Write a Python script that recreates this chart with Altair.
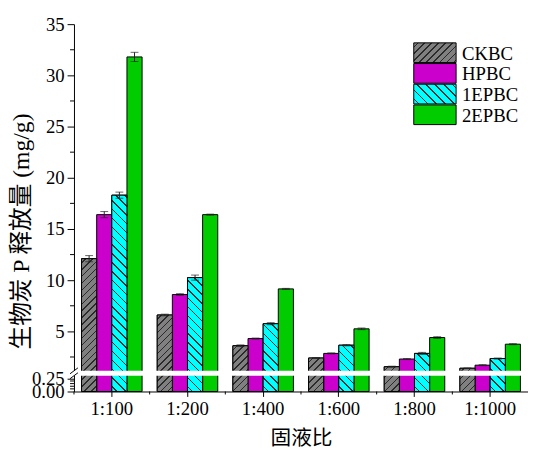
import altair as alt
import pandas as pd

groups = ["1:100", "1:200", "1:400", "1:600", "1:800", "1:1000"]
series = ["CKBC", "HPBC", "1EPBC", "2EPBC"]
ckbc = [12.1, 6.6, 3.6, 2.4, 1.55, 1.4]
hpbc = [16.4, 8.6, 4.3, 2.85, 2.3, 1.7]
ep1 = [18.3, 10.25, 5.75, 3.65, 2.85, 2.35]
ep2 = [31.8, 16.4, 9.15, 5.25, 4.4, 3.75]
err_ckbc = [0.3, 0.08, 0.08, 0.05, 0.05, 0.03]
err_hpbc = [0.3, 0.08, 0.05, 0.05, 0.05, 0.05]
err_ep1 = [0.3, 0.25, 0.1, 0.06, 0.1, 0.05]
err_ep2 = [0.45, 0.05, 0.05, 0.08, 0.08, 0.05]
colors = ["#808080", "#CC00CC", "#00FFFF", "#00CC00"]
y_major = [0, 0.25, 5, 10, 15, 20, 25, 30, 35]
y_minor = [0.05, 0.1, 0.15, 0.2, 2.5, 7.5, 12.5, 17.5, 22.5, 27.5, 32.5]

vals = [ckbc, hpbc, ep1, ep2]
errs = [err_ckbc, err_hpbc, err_ep1, err_ep2]
rows = []
for s, v, e in zip(series, vals, errs):
    for g, vv, ee in zip(groups, v, e):
        rows.append({"group": g, "series": s, "value": vv, "lo": vv - ee, "hi": vv + ee})
df = pd.DataFrame(rows)

W, H = 461, 373
B_LO, B_HI = 0.3, 1.15
UP_BOTTOM, LO_TOP = 352, 357
SERIF = "Liberation Serif"
CJK = "Liberation Serif, Noto Sans CJK SC"

yscale = alt.Scale(domain=[0, B_LO, B_HI, 35], range=[H, LO_TOP, UP_BOTTOM, 0], nice=False, zero=False)


def ypix(v):
    if v >= B_HI:
        return (35 - v) * UP_BOTTOM / (35 - B_HI)
    return H - v * (H - LO_TOP) / B_LO


BAR_W = W / 6 / 5


def hatch(w, h, bg, line, period, direction):
    L = w + h
    lw = 1.5
    stops = [alt.GradientStop(offset=0, color=bg)]
    pos = period / 2
    while pos + lw < L:
        a, b = pos / L, (pos + lw) / L
        stops += [alt.GradientStop(offset=a, color=bg), alt.GradientStop(offset=a, color=line),
                  alt.GradientStop(offset=b, color=line), alt.GradientStop(offset=b, color=bg)]
        pos += period
    stops.append(alt.GradientStop(offset=1, color=bg))
    s = w * (w + h) / (w * w + h * h)
    if direction == "/":
        return alt.LinearGradient(gradient="linear", stops=stops, x1=0, y1=0, x2=s, y2=s * h / w)
    return alt.LinearGradient(gradient="linear", stops=stops, x1=0, y1=1, x2=s, y2=1 - s * h / w)


hatch_style = {"CKBC": ("/", 7, "#2a2a2a"), "1EPBC": ("\\", 9, "#1a3030")}

x_axis = alt.Axis(title="固液比", labelAngle=0, tickSize=5, titlePadding=10)
y_axis = alt.Axis(values=y_major,
                  labelExpr="datum.value < 1 ? format(datum.value, '.2f') : format(datum.value, 'd')",
                  labelOverlap=False, tickSize=7,
                  title="生物炭 P 释放量 (mg/g)", titleX=-53, titleY=210,
                  titleAngle=270, titleAlign="center", titleBaseline="middle")

XS = alt.Scale(domain=groups, paddingInner=0, paddingOuter=0)
X = alt.X("group:N", sort=groups, scale=XS, axis=x_axis)
XO = alt.XOffset("series:N", sort=series, scale=alt.Scale(domain=series, paddingInner=0, paddingOuter=0.5))


def Y(field):
    return alt.Y(field, scale=yscale, axis=y_axis)


base = alt.Chart(df)
bars = base.mark_bar(stroke="black", strokeWidth=1).encode(
    x=X, xOffset=XO,
    y=Y("value:Q"),
    y2=alt.datum(0),
    fill=alt.Fill("series:N", scale=alt.Scale(domain=series, range=colors), legend=None),
)
layers = [bars]

for s, (d, per, lc) in hatch_style.items():
    bg = colors[series.index(s)]
    v = vals[series.index(s)]
    for g, vv in zip(groups, v):
        h = H - ypix(vv)
        grad = hatch(BAR_W, h, bg, lc, per, d)
        layers.append(
            base.transform_filter((alt.datum.group == g) & (alt.datum.series == s))
            .mark_bar(fill=grad, stroke="black", strokeWidth=1)
            .encode(x=X, xOffset=XO, y=Y("value:Q"), y2=alt.datum(0))
        )

layers.append(base.mark_rule(color="#222", strokeWidth=1).encode(
    x=X, xOffset=XO, y=Y("lo:Q"), y2="hi:Q"))
layers.append(base.mark_tick(color="#222", size=8, thickness=1).encode(
    x=X, xOffset=XO, y=Y("hi:Q")))
layers.append(base.mark_tick(color="#222", size=8, thickness=1).encode(
    x=X, xOffset=XO, y=Y("lo:Q")))

one = alt.Chart(pd.DataFrame({"k": [0]}))
# axis break gap
layers.append(one.mark_rect(color="white").encode(
    x=alt.value(-5), x2=alt.value(W + 5), y=alt.datum(B_HI), y2=alt.datum(B_LO)))
# break slashes
for yy in (UP_BOTTOM, LO_TOP):
    layers.append(one.mark_rule(color="black", strokeWidth=1).encode(
        x=alt.value(-4), x2=alt.value(4), y=alt.value(yy + 3), y2=alt.value(yy - 3)))

# minor ticks
layers.append(alt.Chart(pd.DataFrame({"m": y_minor})).mark_rule(color="black").encode(
    y=Y("m:Q"), x=alt.value(-4), x2=alt.value(0)))
# x minor ticks at group boundaries
layers.append(alt.Chart(pd.DataFrame({"group": groups})).mark_rule(color="black").encode(
    x=alt.X("group:N", sort=groups, bandPosition=0, scale=XS, axis=x_axis),
    y=alt.value(H), y2=alt.value(H + 3)))

# legend
for i, s in enumerate(series):
    top = 19 + i * 21
    if s in hatch_style:
        d, per, lc = hatch_style[s]
        f = hatch(43, 20, colors[i], lc, per, d)
    else:
        f = colors[i]
    layers.append(one.mark_rect(fill=f, stroke="black", strokeWidth=1).encode(
        x=alt.value(345), x2=alt.value(388), y=alt.value(top), y2=alt.value(top + 20)))
    layers.append(one.mark_text(text=s, align="left", baseline="middle", font=SERIF,
                                fontSize=19, color="black").encode(
        x=alt.value(394), y=alt.value(top + 11)))

chart = alt.layer(*layers).properties(
    width=W, height=H,
    autosize=alt.AutoSizeParams(type="none"),
    padding={"left": 67, "top": 13, "right": 0, "bottom": 56},
).configure_view(stroke=None).configure_axis(
    labelFont=SERIF, labelColor="black", labelPadding=3, tickColor="black", domainColor="black",
    tickWidth=1, domainWidth=1, grid=False,
    titleFont=CJK, titleFontWeight="normal", titleColor="black",
).configure_axisX(labelFontSize=19, titleFontSize=21).configure_axisY(labelFontSize=19, titleFontSize=24)

chart.save("out.html", embed_options={"renderer": "svg", "actions": False})
